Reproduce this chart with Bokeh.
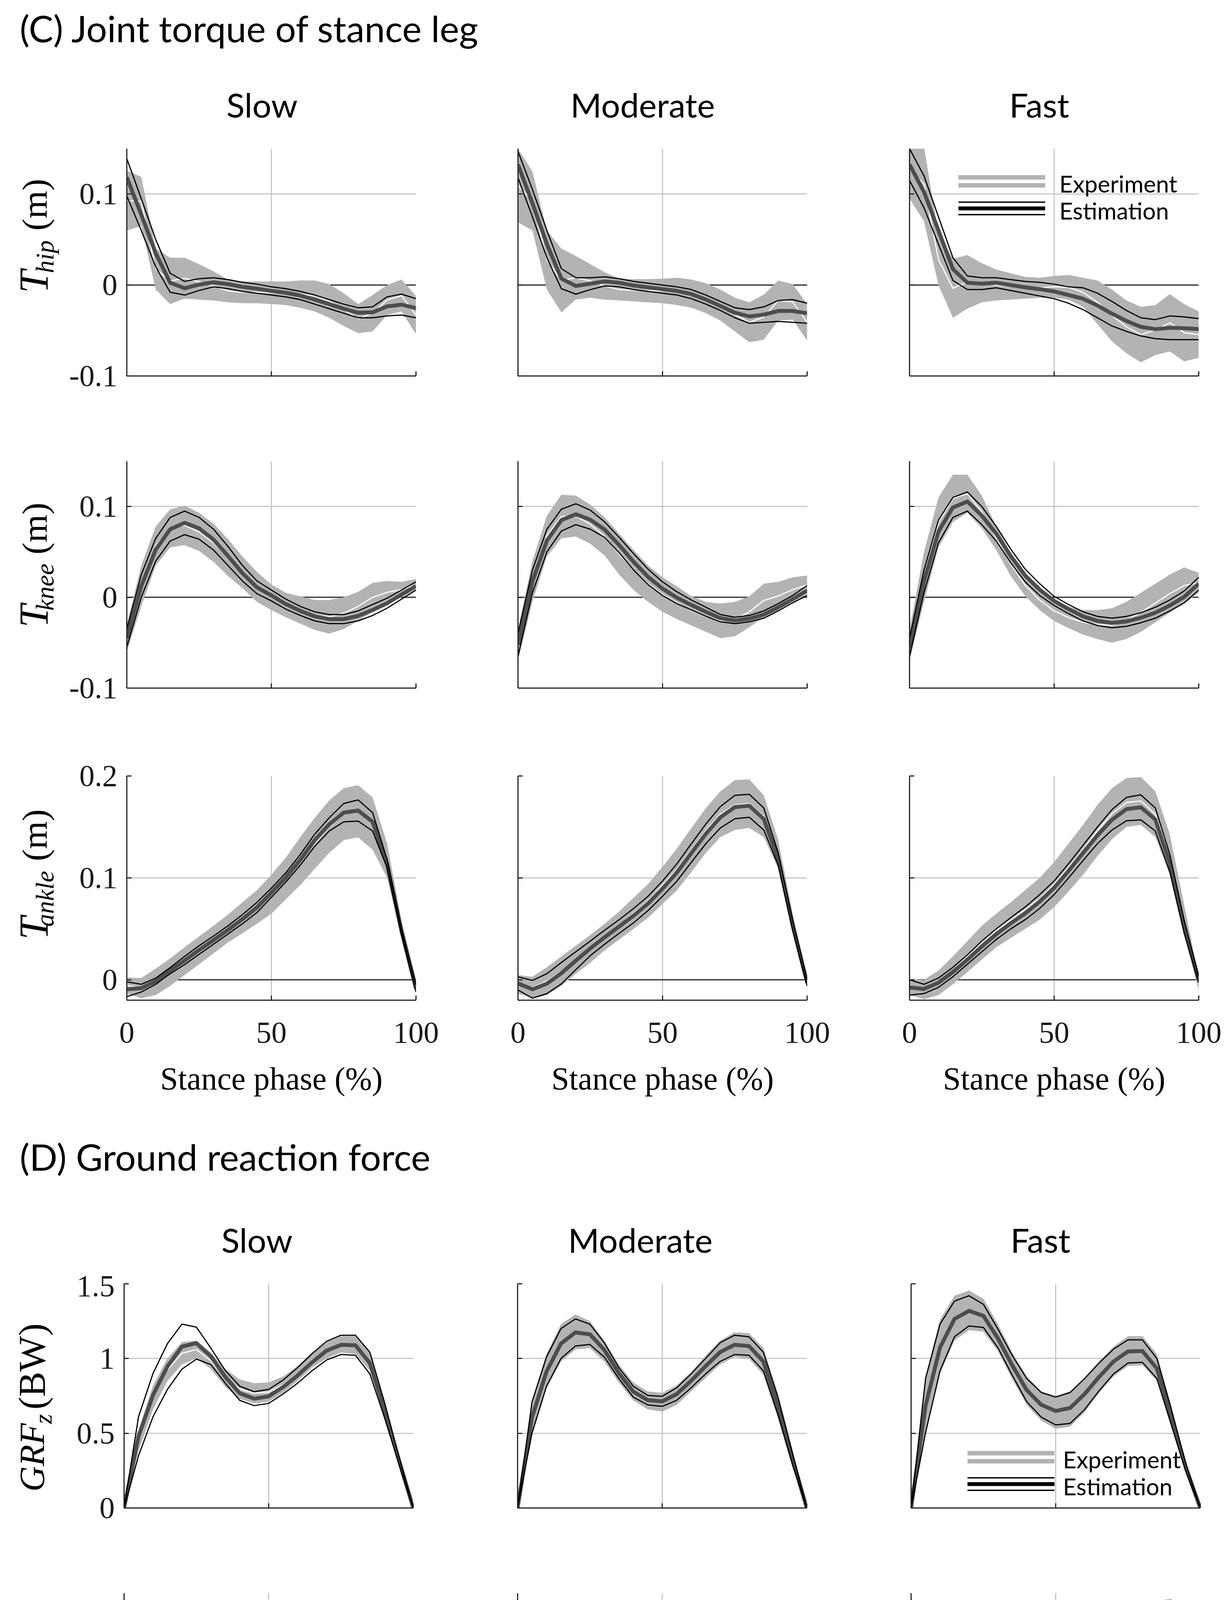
import math
import numpy as np
from bokeh.plotting import figure
from bokeh.layouts import column, row
from bokeh.models import Range1d, FixedTicker, Span
from bokeh.core.properties import value
from bokeh.embed import file_html
from bokeh.resources import INLINE

# ------------------------------------------------------------------ data
X = list(range(0, 101, 5))  # stance phase (%)

SPEEDS = ["Slow", "Moderate", "Fast"]
TITLE_C = "(C) Joint torque of stance leg"
TITLE_D = "(D) Ground reaction force"
X_LABEL = "Stance phase (%)"
X_TICKS = [0, 50, 100]
X_TICK_LABELS = ["0", "50", "100"]
HIP_TICKS = [-0.1, 0, 0.1]
HIP_TICK_LABELS = ["-0.1", "0", "0.1"]
KNEE_TICKS = [-0.1, 0, 0.1]
KNEE_TICK_LABELS = ["-0.1", "0", "0.1"]
ANKLE_TICKS = [0, 0.1, 0.2]
ANKLE_TICK_LABELS = ["0", "0.1", "0.2"]
GRFZ_TICKS = [0, 0.5, 1, 1.5]
GRFZ_TICK_LABELS = ["0", "0.5", "1", "1.5"]
GRFY_TICKS = [-0.2, 0, 0.2]
GRFY_TICK_LABELS = ["-0.2", "0", "0.2"]
LEGEND_LABELS = ["Experiment", "Estimation"]

# Experiment band (mean +/- SD) upper / lower, estimation mean +/- SD upper / lower
HIP_SLOW_EXP_HI = [0.126, 0.119, 0.040, 0.030, 0.030, 0.023, 0.015, 0.006, 0.004, 0.004, 0.004, 0.004, 0.005, 0.005, 0.001, -0.009, -0.021, -0.011, 0.000, 0.006, -0.012]
HIP_SLOW_EXP_LO = [0.060, 0.065, -0.005, -0.021, -0.015, -0.016, -0.017, -0.019, -0.020, -0.020, -0.021, -0.022, -0.025, -0.029, -0.036, -0.045, -0.053, -0.051, -0.033, -0.029, -0.054]
HIP_SLOW_EST_HI = [0.139, 0.095, 0.050, 0.013, 0.004, 0.007, 0.008, 0.006, 0.003, 0.001, -0.002, -0.004, -0.007, -0.011, -0.016, -0.021, -0.025, -0.024, -0.013, -0.010, -0.015]
HIP_SLOW_EST_LO = [0.098, 0.060, 0.020, -0.008, -0.011, -0.006, -0.002, -0.004, -0.007, -0.009, -0.011, -0.013, -0.016, -0.021, -0.026, -0.031, -0.036, -0.036, -0.034, -0.033, -0.036]

HIP_MOD_EXP_HI = [0.150, 0.125, 0.060, 0.040, 0.032, 0.023, 0.014, 0.007, 0.0065, 0.0065, 0.007, 0.008, 0.006, 0.002, -0.005, -0.014, -0.019, -0.0105, 0.005, 0.001, -0.021]
HIP_MOD_EXP_LO = [0.069, 0.060, -0.005, -0.030, -0.016, -0.014, -0.016, -0.017, -0.018, -0.019, -0.020, -0.022, -0.025, -0.031, -0.039, -0.051, -0.063, -0.060, -0.039, -0.038, -0.061]
HIP_MOD_EST_HI = [0.147, 0.105, 0.060, 0.018, 0.008, 0.008, 0.009, 0.007, 0.004, 0.002, 0.000, -0.002, -0.005, -0.011, -0.018, -0.025, -0.027, -0.024, -0.017, -0.016, -0.020]
HIP_MOD_EST_LO = [0.118, 0.075, 0.030, -0.004, -0.010, -0.005, -0.001, -0.002, -0.005, -0.007, -0.009, -0.011, -0.015, -0.021, -0.028, -0.036, -0.042, -0.041, -0.040, -0.041, -0.042]

HIP_FAST_EXP_HI = [0.160, 0.152, 0.056, 0.029, 0.033, 0.024, 0.017, 0.013, 0.009, 0.008, 0.010, 0.011, 0.008, 0.005, -0.005, -0.017, -0.024, -0.022, -0.010, -0.021, -0.029]
HIP_FAST_EXP_LO = [0.095, 0.070, 0.000, -0.036, -0.026, -0.019, -0.017, -0.016, -0.015, -0.014, -0.014, -0.016, -0.024, -0.043, -0.062, -0.075, -0.085, -0.077, -0.073, -0.084, -0.080]
HIP_FAST_EST_HI = [0.150, 0.120, 0.075, 0.030, 0.010, 0.008, 0.008, 0.006, 0.004, 0.003, 0.001, -0.002, -0.003, -0.009, -0.018, -0.028, -0.036, -0.038, -0.034, -0.035, -0.037]
HIP_FAST_EST_LO = [0.115, 0.085, 0.045, 0.005, -0.005, -0.005, -0.003, -0.006, -0.009, -0.012, -0.015, -0.020, -0.027, -0.036, -0.045, -0.051, -0.056, -0.059, -0.060, -0.060, -0.060]

KNEE_SLOW_EXP_HI = [-0.030, 0.035, 0.078, 0.097, 0.101, 0.093, 0.081, 0.064, 0.045, 0.028, 0.014, 0.005, 0.001, -0.003, -0.003, 0.000, 0.006, 0.016, 0.018, 0.017, 0.020]
KNEE_SLOW_EXP_LO = [-0.060, -0.010, 0.035, 0.055, 0.0575, 0.051, 0.039, 0.0235, 0.010, -0.005, -0.014, -0.022, -0.029, -0.036, -0.040, -0.035, -0.026, -0.016, -0.007, 0.000, 0.008]
KNEE_SLOW_EST_HI = [-0.035, 0.025, 0.065, 0.088, 0.095, 0.088, 0.075, 0.056, 0.035, 0.018, 0.008, -0.002, -0.010, -0.016, -0.019, -0.019, -0.015, -0.008, -0.001, 0.008, 0.017]
KNEE_SLOW_EST_LO = [-0.055, 0.000, 0.040, 0.062, 0.069, 0.064, 0.052, 0.035, 0.018, 0.004, -0.004, -0.013, -0.020, -0.026, -0.029, -0.029, -0.026, -0.020, -0.012, -0.002, 0.008]

KNEE_MOD_EXP_HI = [-0.035, 0.040, 0.090, 0.113, 0.112, 0.102, 0.088, 0.070, 0.052, 0.035, 0.022, 0.012, 0.001, -0.005, -0.007, -0.005, 0.001, 0.015, 0.017, 0.022, 0.024]
KNEE_MOD_EXP_LO = [-0.070, -0.005, 0.045, 0.065, 0.067, 0.059, 0.046, 0.025, 0.008, -0.005, -0.016, -0.024, -0.031, -0.038, -0.045, -0.043, -0.033, -0.022, -0.014, -0.005, 0.003]
KNEE_MOD_EST_HI = [-0.040, 0.030, 0.075, 0.097, 0.103, 0.096, 0.083, 0.066, 0.048, 0.031, 0.017, 0.006, -0.003, -0.011, -0.019, -0.022, -0.020, -0.015, -0.007, 0.002, 0.013]
KNEE_MOD_EST_LO = [-0.065, 0.005, 0.050, 0.073, 0.080, 0.075, 0.066, 0.049, 0.030, 0.014, 0.002, -0.007, -0.014, -0.021, -0.027, -0.029, -0.027, -0.023, -0.015, -0.006, 0.002]

KNEE_FAST_EXP_HI = [-0.035, 0.050, 0.110, 0.135, 0.135, 0.112, 0.078, 0.049, 0.025, 0.008, -0.004, -0.0105, -0.014, -0.014, -0.012, -0.005, 0.005, 0.015, 0.025, 0.033, 0.027]
KNEE_FAST_EXP_LO = [-0.070, -0.005, 0.055, 0.083, 0.093, 0.076, 0.052, 0.0235, 0.0014, -0.014, -0.026, -0.034, -0.041, -0.046, -0.050, -0.046, -0.038, -0.0275, -0.017, -0.007, 0.005]
KNEE_FAST_EST_HI = [-0.045, 0.030, 0.085, 0.110, 0.116, 0.100, 0.078, 0.053, 0.031, 0.015, 0.001, -0.008, -0.016, -0.021, -0.023, -0.021, -0.017, -0.011, -0.003, 0.007, 0.022]
KNEE_FAST_EST_LO = [-0.065, 0.005, 0.060, 0.088, 0.095, 0.080, 0.062, 0.038, 0.017, 0.002, -0.009, -0.018, -0.026, -0.031, -0.0335, -0.032, -0.028, -0.023, -0.015, -0.006, 0.008]

ANKLE_SLOW_EXP_HI = [0.0024, 0.0017, 0.011, 0.021, 0.032, 0.0426, 0.053, 0.064, 0.076, 0.088, 0.103, 0.120, 0.140, 0.159, 0.176, 0.188, 0.191, 0.179, 0.134, 0.058, 0.000]
ANKLE_SLOW_EXP_LO = [-0.0135, -0.018, -0.015, -0.006, 0.0047, 0.0153, 0.026, 0.0366, 0.0457, 0.055, 0.065, 0.079, 0.093, 0.109, 0.1246, 0.137, 0.1398, 0.1276, 0.100, 0.0426, -0.0105]
ANKLE_SLOW_EST_HI = [-0.002, -0.0044, 0.0017, 0.012, 0.023, 0.0335, 0.043, 0.053, 0.064, 0.076, 0.090, 0.105, 0.123, 0.143, 0.159, 0.173, 0.1765, 0.164, 0.118, 0.050, -0.005]
ANKLE_SLOW_EST_LO = [-0.0165, -0.012, -0.0044, 0.006, 0.015, 0.025, 0.035, 0.045, 0.055, 0.066, 0.081, 0.096, 0.1125, 0.131, 0.146, 0.155, 0.1557, 0.146, 0.110, 0.045, -0.012]

ANKLE_MOD_EXP_HI = [0.0047, 0.003, 0.0123, 0.023, 0.0335, 0.044, 0.055, 0.067, 0.0806, 0.094, 0.111, 0.129, 0.149, 0.1686, 0.185, 0.196, 0.1967, 0.181, 0.137, 0.065, 0.003]
ANKLE_MOD_EXP_LO = [-0.0135, -0.018, -0.015, -0.006, 0.006, 0.0168, 0.029, 0.0396, 0.050, 0.061, 0.0745, 0.088, 0.106, 0.1246, 0.140, 0.147, 0.149, 0.140, 0.109, 0.0457, -0.009]
ANKLE_MOD_EST_HI = [0.003, -0.0006, 0.006, 0.017, 0.0275, 0.038, 0.0487, 0.059, 0.070, 0.082, 0.097, 0.114, 0.1337, 0.153, 0.170, 0.181, 0.182, 0.1686, 0.1246, 0.058, 0.000]
ANKLE_MOD_EST_LO = [-0.010, -0.018, -0.0135, -0.004, 0.010, 0.0237, 0.035, 0.0457, 0.056, 0.068, 0.082, 0.097, 0.1155, 0.1337, 0.149, 0.158, 0.1595, 0.147, 0.1124, 0.0487, -0.006]

ANKLE_FAST_EXP_HI = [0.001, 0.000, 0.009, 0.023, 0.038, 0.053, 0.065, 0.076, 0.088, 0.100, 0.1155, 0.1337, 0.152, 0.1716, 0.188, 0.198, 0.199, 0.185, 0.143, 0.073, 0.003]
ANKLE_FAST_EXP_LO = [-0.015, -0.019, -0.015, -0.0044, 0.0077, 0.020, 0.032, 0.041, 0.050, 0.059, 0.0715, 0.0866, 0.103, 0.1215, 0.138, 0.150, 0.152, 0.140, 0.103, 0.0426, -0.0105]
ANKLE_FAST_EST_HI = [0.000, -0.0044, 0.0017, 0.0123, 0.0244, 0.038, 0.050, 0.061, 0.0715, 0.0836, 0.097, 0.114, 0.132, 0.150, 0.167, 0.179, 0.1815, 0.1686, 0.123, 0.058, 0.003]
ANKLE_FAST_EST_LO = [-0.015, -0.0135, -0.0074, 0.003, 0.0153, 0.0275, 0.0396, 0.050, 0.059, 0.070, 0.0836, 0.100, 0.117, 0.1337, 0.147, 0.156, 0.157, 0.146, 0.106, 0.0457, -0.003]

GRFZ_SLOW_EXP_HI = [0.02, 0.52, 0.82, 1.00, 1.11, 1.12, 1.04, 0.93, 0.86, 0.835, 0.84, 0.88, 0.95, 1.04, 1.11, 1.15, 1.15, 1.04, 0.71, 0.36, 0.02]
GRFZ_SLOW_EXP_LO = [0.00, 0.38, 0.66, 0.85, 0.96, 1.00, 0.93, 0.81, 0.73, 0.70, 0.71, 0.77, 0.85, 0.94, 1.00, 1.04, 1.03, 0.92, 0.62, 0.30, 0.00]
GRFZ_SLOW_EST_HI = [0.00, 0.61, 0.90, 1.10, 1.23, 1.21, 1.07, 0.92, 0.815, 0.778, 0.794, 0.856, 0.939, 1.032, 1.115, 1.156, 1.156, 1.042, 0.711, 0.349, 0.00]
GRFZ_SLOW_EST_LO = [0.00, 0.35, 0.61, 0.794, 0.929, 0.996, 0.96, 0.835, 0.72, 0.685, 0.70, 0.763, 0.835, 0.918, 0.99, 1.027, 1.022, 0.897, 0.608, 0.297, 0.00]

GRFZ_MOD_EXP_HI = [0.02, 0.72, 1.03, 1.23, 1.295, 1.25, 1.12, 0.96, 0.84, 0.78, 0.77, 0.82, 0.91, 1.02, 1.12, 1.175, 1.17, 1.07, 0.77, 0.40, 0.02]
GRFZ_MOD_EXP_LO = [0.00, 0.48, 0.80, 0.98, 1.06, 1.07, 0.98, 0.84, 0.72, 0.66, 0.645, 0.69, 0.78, 0.87, 0.96, 1.01, 1.00, 0.89, 0.60, 0.27, 0.00]
GRFZ_MOD_EST_HI = [0.00, 0.71, 1.01, 1.20, 1.265, 1.23, 1.105, 0.94, 0.815, 0.753, 0.747, 0.804, 0.897, 1.00, 1.105, 1.156, 1.146, 1.042, 0.742, 0.37, 0.00]
GRFZ_MOD_EST_LO = [0.00, 0.504, 0.815, 1.00, 1.084, 1.094, 1.01, 0.866, 0.742, 0.69, 0.68, 0.72, 0.804, 0.897, 0.98, 1.027, 1.022, 0.918, 0.628, 0.297, 0.00]

GRFZ_FAST_EXP_HI = [0.02, 0.88, 1.26, 1.42, 1.455, 1.40, 1.23, 1.04, 0.88, 0.78, 0.75, 0.78, 0.87, 0.98, 1.08, 1.15, 1.15, 1.03, 0.68, 0.31, 0.02]
GRFZ_FAST_EXP_LO = [0.00, 0.50, 0.90, 1.12, 1.19, 1.18, 1.05, 0.86, 0.69, 0.585, 0.53, 0.545, 0.64, 0.77, 0.88, 0.95, 0.955, 0.85, 0.54, 0.23, 0.00]
GRFZ_FAST_EST_HI = [0.00, 0.866, 1.23, 1.384, 1.42, 1.363, 1.198, 1.02, 0.866, 0.773, 0.742, 0.773, 0.866, 0.97, 1.063, 1.125, 1.125, 1.00, 0.66, 0.297, 0.00]
GRFZ_FAST_EST_LO = [0.00, 0.504, 0.918, 1.146, 1.218, 1.208, 1.073, 0.887, 0.711, 0.608, 0.556, 0.566, 0.659, 0.784, 0.897, 0.97, 0.975, 0.866, 0.556, 0.245, 0.00]

GRFY_SLOW_EXP_HI = [0.06, 0.0, -0.07, -0.125, -0.145, -0.12, -0.075, -0.045, -0.028, -0.015, -0.005, 0.01, 0.035, 0.063, 0.093, 0.13, 0.175, 0.225, 0.235, 0.13, 0.02]
GRFY_SLOW_EXP_LO = [0.02, -0.04, -0.13, -0.215, -0.215, -0.165, -0.115, -0.08, -0.055, -0.04, -0.025, -0.006, 0.014, 0.038, 0.063, 0.09, 0.125, 0.16, 0.16, 0.07, -0.02]
GRFY_SLOW_EST_HI = [0.057, 0.0, -0.07, -0.131, -0.152, -0.123, -0.078, -0.049, -0.033, -0.020, -0.008, 0.008, 0.033, 0.061, 0.090, 0.127, 0.168, 0.225, 0.221, 0.123, 0.012]
GRFY_SLOW_EST_LO = [0.025, -0.037, -0.123, -0.193, -0.20, -0.16, -0.115, -0.082, -0.057, -0.041, -0.025, -0.004, 0.016, 0.041, 0.066, 0.094, 0.127, 0.156, 0.156, 0.066, -0.033]

GRFY_MOD_EXP_HI = [0.07, 0.015, -0.05, -0.12, -0.16, -0.135, -0.085, -0.052, -0.035, -0.02, -0.005, 0.015, 0.04, 0.07, 0.10, 0.14, 0.195, 0.255, 0.255, 0.13, 0.03]
GRFY_MOD_EXP_LO = [-0.01, -0.06, -0.17, -0.26, -0.235, -0.18, -0.12, -0.085, -0.063, -0.047, -0.03, -0.01, 0.013, 0.037, 0.065, 0.097, 0.14, 0.18, 0.175, 0.07, -0.01]
GRFY_MOD_EST_HI = [0.066, 0.012, -0.057, -0.131, -0.172, -0.143, -0.09, -0.057, -0.041, -0.029, -0.012, 0.008, 0.033, 0.061, 0.09, 0.125, 0.176, 0.238, 0.217, 0.115, 0.025]
GRFY_MOD_EST_LO = [0.0, -0.049, -0.152, -0.221, -0.217, -0.172, -0.115, -0.082, -0.061, -0.045, -0.029, -0.008, 0.016, 0.041, 0.07, 0.102, 0.143, 0.184, 0.18, 0.074, -0.008]

GRFY_FAST_EXP_HI = [0.06, 0.0, -0.10, -0.18, -0.19, -0.145, -0.09, -0.055, -0.035, -0.02, -0.005, 0.015, 0.045, 0.08, 0.115, 0.16, 0.22, 0.28, 0.285, 0.15, 0.04]
GRFY_FAST_EXP_LO = [-0.01, -0.08, -0.20, -0.30, -0.28, -0.205, -0.13, -0.09, -0.065, -0.048, -0.032, -0.012, 0.015, 0.045, 0.075, 0.11, 0.15, 0.19, 0.19, 0.09, 0.0]
GRFY_FAST_EST_HI = [0.057, -0.008, -0.111, -0.197, -0.20, -0.152, -0.09, -0.057, -0.041, -0.029, -0.012, 0.008, 0.037, 0.07, 0.102, 0.143, 0.189, 0.238, 0.23, 0.135, 0.033]
GRFY_FAST_EST_LO = [0.0, -0.07, -0.184, -0.262, -0.254, -0.193, -0.123, -0.086, -0.061, -0.045, -0.029, -0.008, 0.02, 0.053, 0.086, 0.123, 0.164, 0.20, 0.189, 0.094, 0.008]

# ------------------------------------------------------------------ style
BAND = "#b3b3b3"
EST_MEAN = "#4d4d4d"
AXIS = "#262626"
GRID = "#bdbdbd"
SERIF = "Liberation Serif"
SANS = "Lato"
FRAME_W = 740
TOTAL_W = 3127
BASE_OFF = 0.28   # empirical shift of the rendered baseline (fraction of font size)
LEGEND_SIZE = 60


def base_fig(w, h, xr, yr, **kw):
    p = figure(frame_width=w, frame_height=h, x_range=xr, y_range=yr,
               output_backend="svg", toolbar_location=None, **kw)
    p.outline_line_color = None
    p.background_fill_color = "white"
    p.border_fill_color = "white"
    return p


def text_fig(width, top, bottom, x0=8):
    """A blank figure whose data coordinates are page pixels (y negated)."""
    p = base_fig(width, bottom - top, Range1d(x0, x0 + width), Range1d(-bottom, -top),
                 x_axis_type=None, y_axis_type=None,
                 min_border_left=0, min_border_right=0, min_border_top=0, min_border_bottom=0)
    p.grid.visible = False
    return p


def add_text(p, x, baseline, txt, size, font=SANS, style="normal", align="left"):
    p.text(x=[x], y=[-(baseline - BASE_OFF * size)], text=[txt], text_font=value(font),
           text_font_style=style, text_font_size=value(f"{size}px"),
           text_align=align, text_baseline="alphabetic", text_color="#000000")


def add_vtext(p, baseline_x, start_y, txt, size, style):
    p.text(x=[baseline_x - BASE_OFF * size], y=[-start_y], text=[txt], angle=math.pi / 2,
           text_font=value(SERIF), text_font_style=style, text_font_size=value(f"{size}px"),
           text_align="left", text_baseline="alphabetic", text_color="#000000")


def panel(data, ylim, ticks, tick_labels, grid_ticks, zero, borders, frame_h,
          ylabels, xlabels):
    exp_hi, exp_lo, est_hi, est_lo = [np.array(a, dtype=float) for a in data]
    bl, br, bt, bb = borders
    p = base_fig(FRAME_W, frame_h, Range1d(0, 100), Range1d(*ylim),
                 min_border_left=bl, min_border_right=br,
                 min_border_top=bt, min_border_bottom=bb)
    xa, ya = p.xaxis[0], p.yaxis[0]
    for ax in (xa, ya):
        ax.axis_line_color = AXIS
        ax.axis_line_width = 3
        ax.major_tick_line_color = AXIS
        ax.major_tick_line_width = 3
        ax.major_tick_in = 12
        ax.major_tick_out = 0
        ax.minor_tick_line_color = None
        ax.major_label_text_font = SERIF
        ax.major_label_text_color = "#1a1a1a"
        ax.major_label_text_font_size = "78px"
    xa.ticker = FixedTicker(ticks=X_TICKS)
    xa.major_label_overrides = dict(zip(X_TICKS, X_TICK_LABELS))
    ya.ticker = FixedTicker(ticks=ticks)
    ya.major_label_overrides = dict(zip(ticks, tick_labels))
    if xlabels:
        xa.major_label_standoff = 57
    else:
        xa.major_label_text_color = None
        xa.major_label_text_font_size = "10px"
        xa.major_label_standoff = 0
    if ylabels:
        ya.major_label_standoff = 24
    else:
        ya.major_label_text_color = None
        ya.major_label_text_font_size = "10px"
        ya.major_label_standoff = 0

    p.xgrid.ticker = FixedTicker(ticks=[50])
    p.ygrid.ticker = FixedTicker(ticks=grid_ticks)
    for g in (p.xgrid[0], p.ygrid[0]):
        g.grid_line_color = GRID
        g.grid_line_width = 2.5
    if zero:
        p.add_layout(Span(location=0, dimension="width", line_color=AXIS,
                          line_width=3, level="underlay"))

    p.varea(x=X, y1=exp_lo, y2=exp_hi, fill_color=BAND, fill_alpha=1.0)
    p.line(X, (exp_hi + exp_lo) / 2, line_color="white", line_width=3, line_join="round")
    p.line(X, (est_hi + est_lo) / 2, line_color=EST_MEAN, line_width=10, line_join="round")
    p.line(X, est_hi, line_color="black", line_width=3, line_join="round")
    p.line(X, est_lo, line_color="black", line_width=3, line_join="round")
    return p


def add_legend(p, x0, x1, tx, y_exp, y_est, dy, base_exp, base_est, px_per_unit):
    p.line([x0, x1], [y_exp, y_exp], line_color=BAND, line_width=32, line_cap="butt")
    p.line([x0, x1], [y_exp, y_exp], line_color="white", line_width=9, line_cap="butt")
    p.line([x0, x1], [y_est, y_est], line_color="black", line_width=10, line_cap="butt")
    p.line([x0, x1], [y_est + dy, y_est + dy], line_color="black", line_width=3.5, line_cap="butt")
    p.line([x0, x1], [y_est - dy, y_est - dy], line_color="black", line_width=3.5, line_cap="butt")
    shift = BASE_OFF * LEGEND_SIZE / px_per_unit
    p.text(x=[tx, tx], y=[base_exp + shift, base_est + shift], text=LEGEND_LABELS,
           text_font=value(SANS), text_font_size=value(f"{LEGEND_SIZE}px"),
           text_baseline="alphabetic", text_align="left", text_color="#000000")


# ------------------------------------------------------------------ layout specs
rows_c = [
    dict(sub="hip", sets=[
        (HIP_SLOW_EXP_HI, HIP_SLOW_EXP_LO, HIP_SLOW_EST_HI, HIP_SLOW_EST_LO),
        (HIP_MOD_EXP_HI, HIP_MOD_EXP_LO, HIP_MOD_EST_HI, HIP_MOD_EST_LO),
        (HIP_FAST_EXP_HI, HIP_FAST_EXP_LO, HIP_FAST_EST_HI, HIP_FAST_EST_LO)],
         ylim=(-0.1, 0.15), ticks=HIP_TICKS, labels=HIP_TICK_LABELS, grid=[0.1],
         tb=(20, 109), fh=582, starts=(758, 707, 598)),
    dict(sub="knee", sets=[
        (KNEE_SLOW_EXP_HI, KNEE_SLOW_EXP_LO, KNEE_SLOW_EST_HI, KNEE_SLOW_EST_LO),
        (KNEE_MOD_EXP_HI, KNEE_MOD_EXP_LO, KNEE_MOD_EST_HI, KNEE_MOD_EST_LO),
        (KNEE_FAST_EXP_HI, KNEE_FAST_EXP_LO, KNEE_FAST_EST_HI, KNEE_FAST_EST_LO)],
         ylim=(-0.1, 0.15), ticks=KNEE_TICKS, labels=KNEE_TICK_LABELS, grid=[0.1],
         tb=(109, 112), fh=581, starts=(1614, 1571, 1427)),
    dict(sub="ankle", sets=[
        (ANKLE_SLOW_EXP_HI, ANKLE_SLOW_EXP_LO, ANKLE_SLOW_EST_HI, ANKLE_SLOW_EST_LO),
        (ANKLE_MOD_EXP_HI, ANKLE_MOD_EXP_LO, ANKLE_MOD_EST_HI, ANKLE_MOD_EST_LO),
        (ANKLE_FAST_EXP_HI, ANKLE_FAST_EXP_LO, ANKLE_FAST_EST_HI, ANKLE_FAST_EST_LO)],
         ylim=(-0.02, 0.2), ticks=ANKLE_TICKS, labels=ANKLE_TICK_LABELS, grid=[0.1],
         tb=(113, 150), fh=574, starts=(2413, 2380, 2212)),
]
rows_d = [
    dict(sub="z", sets=[
        (GRFZ_SLOW_EXP_HI, GRFZ_SLOW_EXP_LO, GRFZ_SLOW_EST_HI, GRFZ_SLOW_EST_LO),
        (GRFZ_MOD_EXP_HI, GRFZ_MOD_EXP_LO, GRFZ_MOD_EST_HI, GRFZ_MOD_EST_LO),
        (GRFZ_FAST_EXP_HI, GRFZ_FAST_EXP_LO, GRFZ_FAST_EST_HI, GRFZ_FAST_EST_LO)],
         ylim=(0, 1.5), ticks=GRFZ_TICKS, labels=GRFZ_TICK_LABELS, grid=[0.5, 1],
         tb=(20, 109), fh=574, starts=(3826, 3653, 3616)),
    dict(sub="y", sets=[
        (GRFY_SLOW_EXP_HI, GRFY_SLOW_EXP_LO, GRFY_SLOW_EST_HI, GRFY_SLOW_EST_LO),
        (GRFY_MOD_EXP_HI, GRFY_MOD_EXP_LO, GRFY_MOD_EST_HI, GRFY_MOD_EST_LO),
        (GRFY_FAST_EXP_HI, GRFY_FAST_EXP_LO, GRFY_FAST_EST_HI, GRFY_FAST_EST_LO)],
         ylim=(-0.3, 0.3), ticks=GRFY_TICKS, labels=GRFY_TICK_LABELS, grid=[-0.2, 0.2],
         tb=(109, 150), fh=580, starts=(4559, 4391, 4323)),
]
C_LEFT = [(150, 100), (161, 100), (162, 60)]
D_LEFT = [(150, 100), (167, 100), (167, 56)]


def panel_rows(rows, lefts):
    out = []
    last = len(rows) - 1
    for i, r in enumerate(rows):
        bt, bb = r["tb"]
        zero = r["ylim"][0] < 0
        figs = []
        for j, ((bl, br), d) in enumerate(zip(lefts, r["sets"])):
            figs.append(panel(d, r["ylim"], r["ticks"], r["labels"], r["grid"], zero,
                              (bl, br, bt, bb), r["fh"], ylabels=(j == 0), xlabels=(i == last)))
        out.append(figs)
    return out


def label_column(rows, width, top, bottom, main, unit, sizes, bx):
    p = text_fig(width, top, bottom)
    s_main, s_sub, s_unit = sizes
    b_main, b_sub, b_unit = bx
    for r in rows:
        st_main, st_sub, st_unit = r["starts"]
        add_vtext(p, b_main, st_main, main, s_main, "italic")
        add_vtext(p, b_sub, st_sub, r["sub"], s_sub, "italic")
        add_vtext(p, b_unit, st_unit, unit, s_unit, "normal")
    return p


def header(top, bottom, title, title_base, col_centers, col_base):
    p = text_fig(TOTAL_W, top, bottom)
    add_text(p, 58, title_base, title, 94)
    for name, cx in zip(SPEEDS, col_centers):
        add_text(p, cx, col_base, name, 86, align="center")
    return p


def footer(top, bottom, centers, base):
    p = text_fig(TOTAL_W, top, bottom)
    for cx in centers:
        add_text(p, cx, base, X_LABEL, 82, font=SERIF, align="center")
    return p


c_figs = panel_rows(rows_c, C_LEFT)
d_figs = panel_rows(rows_d, D_LEFT)

add_legend(c_figs[0][2], 16.9, 46.9, 51.8, 0.114, 0.0843, 0.0069, 0.1045, 0.0748, 582 / 0.25)
add_legend(d_figs[0][2], 19.5, 49.6, 52.5, 0.340, 0.160, 0.042, 0.282, 0.102, 574 / 1.5)

# section C: page y 8..2830 ; section D: 2830..4921
head_c = header(8, 368, TITLE_C, 105, [678, 1652, 2667], 299)
lab_c = label_column(rows_c, 174, 368, 2718, "T", "(m)", (105, 66, 92), (123, 140, 122))
foot_c = footer(2718, 2830, [702, 1703, 2705], 2792)

head_d = header(2830, 3274, TITLE_D, 2994, [665, 1646, 2670], 3205)
lab_d = label_column(rows_d, 167, 3274, 4816, "GRF", "(BW)", (90, 66, 97), (115, 135, 117))
foot_d = footer(4816, 4921, [695, 1702, 2709], 4882)

layout = column(
    head_c,
    row(lab_c, column(*[row(*f) for f in c_figs])),
    foot_c,
    head_d,
    row(lab_d, column(*[row(*f) for f in d_figs])),
    foot_d,
)

with open("out.html", "w") as f:
    f.write(file_html(layout, INLINE))
